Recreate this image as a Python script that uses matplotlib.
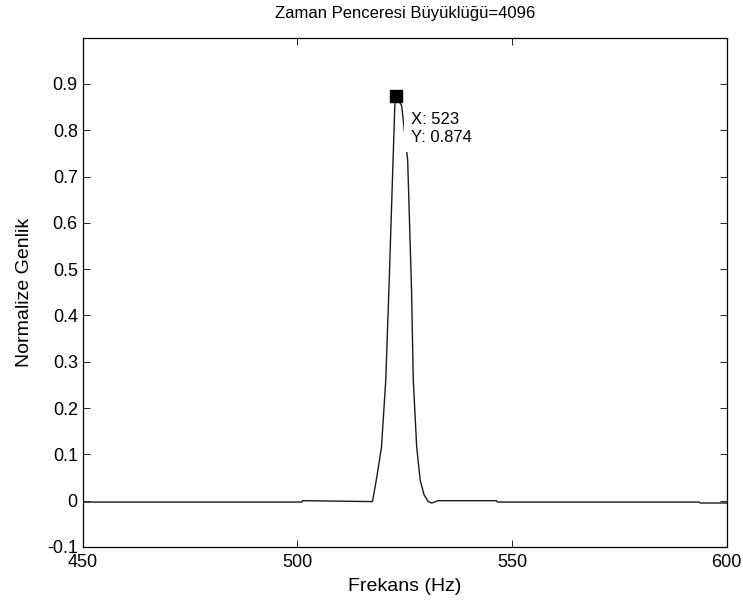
import matplotlib.pyplot as plt

plt.rcParams['font.family'] = ['Liberation Sans', 'DejaVu Sans']

# spectrum trace (Hz, normalized amplitude)
freq = [450, 501, 501.2, 517.5, 518.4, 519.0, 519.6, 520.6, 521.4, 522.7, 523,
        524.3, 525.7, 526.6, 527.0, 527.8, 528.6, 529.5, 530.5, 531.3, 532.8,
        546.4, 546.6, 593.6, 593.8, 600]
amp = [-0.003, -0.003, 0.0, -0.002, 0.045, 0.08, 0.116, 0.261, 0.476, 0.853, 0.874,
       0.853, 0.735, 0.455, 0.261, 0.116, 0.045, 0.013, -0.002, -0.005, 0.0,
       0.0, -0.003, -0.003, -0.005, -0.005]

tip_x = 523
tip_y = 0.874

xticks = [450, 500, 550, 600]
yticks = [-0.1, 0, 0.1, 0.2, 0.3, 0.4, 0.5, 0.6, 0.7, 0.8, 0.9]
ylabels = ["-0.1", "0", "0.1", "0.2", "0.3", "0.4", "0.5", "0.6", "0.7", "0.8", "0.9"]

fig = plt.figure(figsize=(7.43, 6.02), dpi=100)
ax = fig.add_axes([0.1113, 0.0914, 0.8667, 0.846])

ax.plot(freq, amp, color="#1a1a1a", lw=1.0)

# data tip marker + label (white box hides the trace behind it)
ax.plot([tip_x], [tip_y], marker="s", color="black", ms=8.5, ls="none", zorder=5)
ax.text(tip_x + 3.4, tip_y - 0.035, "X: %d\nY: %.3f" % (tip_x, tip_y),
        fontsize=12, va="top", ha="left", linespacing=1.2,
        bbox=dict(facecolor="white", edgecolor="none", pad=5), zorder=4)

ax.set_xlim(450, 600)
ax.set_ylim(-0.1, 1.0)
ax.set_xticks(xticks)
ax.set_yticks(yticks)
ax.set_yticklabels(ylabels)
ax.tick_params(direction="in", top=True, right=True, length=5, labelsize=13, width=0.6)
ax.tick_params(axis="x", pad=5)
for s in ax.spines.values():
    s.set_linewidth(0.9)

ax.set_xlabel("Frekans (Hz)", fontsize=14, labelpad=5)
ax.set_ylabel("Normalize Genlik", fontsize=14, labelpad=10)
ax.set_title("Zaman Penceresi Büyüklüğü=4096", fontsize=12, pad=14.5)

plt.savefig("out.png", dpi=100)
